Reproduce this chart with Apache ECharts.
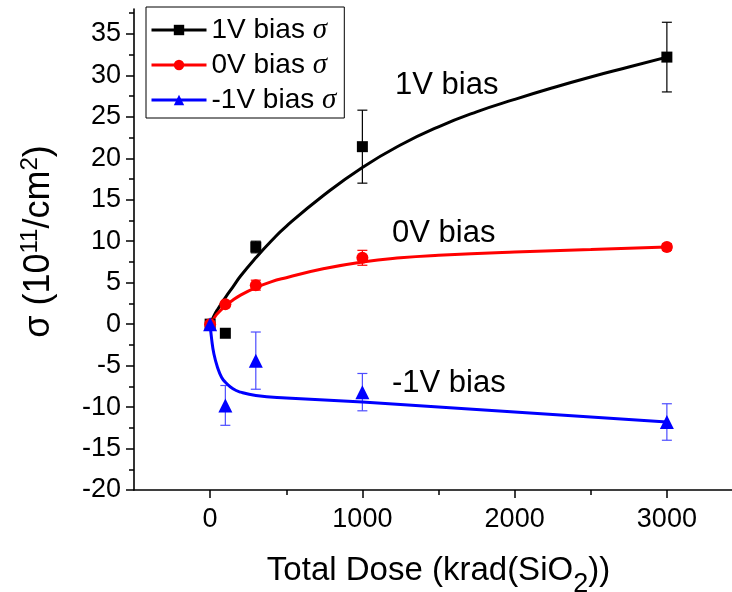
<!DOCTYPE html>
<html>
<head>
<meta charset="utf-8">
<script src="https://cdn.jsdelivr.net/npm/echarts@6/dist/echarts.min.js"></script>
<style>
  html, body { margin: 0; padding: 0; background: #fff; }
  #chart { width: 732px; height: 592px; }
</style>
</head>
<body>
<div id="chart"></div>
<script>
// measured points (total dose in krad(SiO2), sigma in 1e11/cm2)
const dose = [0, 100, 300, 1000, 3000];
const bias1V = [0, -1.1, 9.3, 21.4, 32.2];
const bias1VErr = [0, 0, 0.7, 4.4, 4.2];
const bias0V = [0, 2.4, 4.7, 8.0, 9.3];
const bias0VErr = [0, 0, 0.6, 0.9, 0.4];
const biasN1V = [0, -9.8, -4.4, -8.2, -11.8];
const biasN1VErr = [0, 2.4, 3.45, 2.25, 2.2];

// fitted curves
const fit1VDose = [0, 25, 50, 100, 150, 200, 300, 400, 500, 750, 1000, 1250, 1500, 1750, 2000, 2250, 2500, 2750, 3000];
const fit1V = [0, 1.0, 1.8, 3.2, 4.5, 5.8, 8.0, 10.0, 11.8, 15.6, 18.9, 21.6, 23.8, 25.6, 27.1, 28.5, 29.8, 31.0, 32.2];
const fit0VDose = [0, 25, 50, 100, 150, 200, 300, 400, 500, 750, 1000, 1250, 1500, 2000, 2500, 3000];
const fit0V = [0, 0.7, 1.3, 2.2, 2.9, 3.5, 4.4, 5.1, 5.6, 6.7, 7.5, 8.0, 8.3, 8.7, 9.0, 9.3];
const fitN1VDose = [0, 10, 25, 50, 75, 100, 150, 200, 300, 500, 1000, 2000, 3000];
const fitN1V = [0, -1.8, -3.6, -5.3, -6.4, -7.0, -7.8, -8.2, -8.6, -8.9, -9.4, -10.6, -11.8];

const xMajor = [0, 1000, 2000, 3000];
const xMinor = [500, 1500, 2500];
const yMajor = [-20, -15, -10, -5, 0, 5, 10, 15, 20, 25, 30, 35];
const yMinor = [-17.5, -12.5, -7.5, -2.5, 2.5, 7.5, 12.5, 17.5, 22.5, 27.5, 32.5, 37.5];

const FONT = 'Liberation Sans, Arial, sans-serif';

function pairs(xs, ys) {
  return xs.map((x, i) => [x, ys[i]]);
}

function errorBars(name, xs, ys, errs, color) {
  let data = [];
  xs.forEach((x, i) => {
    if (errs[i] > 0) data.push([x, ys[i] - errs[i], ys[i] + errs[i]]);
  });
  return {
    type: 'custom',
    name: name,
    data: data,
    z: 1,
    encode: { x: 0, y: [1, 2] },
    renderItem: function (params, api) {
      let x = api.value(0);
      let lo = api.coord([x, api.value(1)]);
      let hi = api.coord([x, api.value(2)]);
      let w = 5;
      let style = { stroke: color, lineWidth: 1.2 };
      return {
        type: 'group',
        children: [
          { type: 'line', shape: { x1: lo[0], y1: lo[1], x2: hi[0], y2: hi[1] }, style: style },
          { type: 'line', shape: { x1: lo[0] - w, y1: lo[1], x2: lo[0] + w, y2: lo[1] }, style: style },
          { type: 'line', shape: { x1: hi[0] - w, y1: hi[1], x2: hi[0] + w, y2: hi[1] }, style: style }
        ]
      };
    }
  };
}

function fitLine(name, xs, ys, color, symbol) {
  return {
    type: 'line',
    name: name,
    data: pairs(xs, ys),
    smooth: 0.5,
    showSymbol: false,
    symbol: symbol,
    lineStyle: { color: color, width: 3 },
    itemStyle: { color: color },
    z: 2
  };
}

function points(name, xs, ys, color, symbol, size) {
  return {
    type: 'scatter',
    name: name,
    data: pairs(xs, ys),
    symbol: symbol,
    symbolSize: size,
    itemStyle: { color: color, opacity: 1 },
    z: 3
  };
}

const axisLine = { show: true, onZero: false, lineStyle: { color: '#000', width: 1.6 } };
const plainNum = v => String(v);

let chart = echarts.init(document.getElementById('chart'));
chart.setOption({
  animation: false,
  backgroundColor: '#fff',
  grid: { left: 134, top: 9, width: 609, height: 481, containLabel: false, outerBoundsMode: 'none' },
  legend: {
    data: ['1V bias', '0V bias', '-1V bias'],
    orient: 'vertical',
    left: 146,
    top: 7,
    padding: [8, 8, 3, 4],
    itemWidth: 55,
    itemHeight: 13,
    itemGap: 5,
    borderColor: '#000',
    borderWidth: 1,
    borderRadius: 0,
    backgroundColor: '#fff',
    lineStyle: { width: 3 },
    formatter: function (name) { return name + ' {i|σ}'; },
    textStyle: {
      color: '#000', fontFamily: FONT, fontSize: 28, lineHeight: 30,
      rich: { i: { fontStyle: 'italic', fontFamily: 'Liberation Serif, serif', fontSize: 29, lineHeight: 30, color: '#000' } }
    }
  },
  xAxis: [{
    type: 'value', min: -500, max: 3500, position: 'bottom',
    name: 'Total Dose (krad(SiO{sub|2}))',
    nameLocation: 'middle', nameGap: 62,
    nameTextStyle: {
      color: '#000', fontFamily: FONT, fontSize: 33, lineHeight: 38,
      rich: { sub: { fontFamily: FONT, fontSize: 27, lineHeight: 20, verticalAlign: 'bottom', padding: [0, 0, -8, 0], color: '#000' } }
    },
    axisLine: axisLine,
    axisTick: { show: true, customValues: xMajor, length: 8, lineStyle: { color: '#000', width: 1.5 } },
    axisLabel: { customValues: xMajor, formatter: plainNum, color: '#000', fontFamily: FONT, fontSize: 27, margin: 16 },
    splitLine: { show: false }
  }, {
    type: 'value', min: -500, max: 3500, position: 'bottom',
    axisLine: { show: false, onZero: false },
    axisTick: { show: true, customValues: xMinor, length: 5, lineStyle: { color: '#000', width: 1.5 } },
    axisLabel: { show: false },
    splitLine: { show: false }
  }],
  yAxis: [{
    type: 'value', min: -20, max: 38, position: 'left',
    name: 'σ (10{sup|11}/cm{sup|2})',
    nameLocation: 'middle', nameGap: 74,
    nameTextStyle: {
      color: '#000', fontFamily: FONT, fontSize: 36, lineHeight: 42, padding: [0, 0, 0, 16],
      rich: { sup: { fontFamily: FONT, fontSize: 24, lineHeight: 24, verticalAlign: 'top', color: '#000' } }
    },
    axisLine: axisLine,
    axisTick: { show: true, customValues: yMajor, length: 8, lineStyle: { color: '#000', width: 1.5 } },
    axisLabel: { customValues: yMajor, formatter: plainNum, color: '#000', fontFamily: FONT, fontSize: 27, margin: 13 },
    splitLine: { show: false }
  }, {
    type: 'value', min: -20, max: 38, position: 'left',
    axisLine: { show: false, onZero: false },
    axisTick: { show: true, customValues: yMinor, length: 5, lineStyle: { color: '#000', width: 1.5 } },
    axisLabel: { show: false },
    splitLine: { show: false }
  }],
  graphic: [
    { type: 'text', x: 395, y: 85, style: { text: '1V bias', fontFamily: FONT, fontSize: 31, fill: '#000', verticalAlign: 'middle' } },
    { type: 'text', x: 392, y: 233, style: { text: '0V bias', fontFamily: FONT, fontSize: 31, fill: '#000', verticalAlign: 'middle' } },
    { type: 'text', x: 392, y: 383, style: { text: '-1V bias', fontFamily: FONT, fontSize: 31, fill: '#000', verticalAlign: 'middle' } }
  ],
  series: [
    errorBars('1V err', dose, bias1V, bias1VErr, '#000'),
    errorBars('0V err', dose, bias0V, bias0VErr, '#ff0000'),
    errorBars('-1V err', dose, biasN1V, biasN1VErr, '#4d4dff'),
    fitLine('1V bias', fit1VDose, fit1V, '#000', 'rect'),
    fitLine('0V bias', fit0VDose, fit0V, '#ff0000', 'circle'),
    fitLine('-1V bias', fitN1VDose, fitN1V, '#0000ff', 'triangle'),
    points('1V pts', dose, bias1V, '#000', 'rect', 11),
    points('0V pts', dose, bias0V, '#ff0000', 'circle', 12),
    points('-1V pts', dose, biasN1V, '#0000ff', 'triangle', 14)
  ]
});
</script>
</body>
</html>
